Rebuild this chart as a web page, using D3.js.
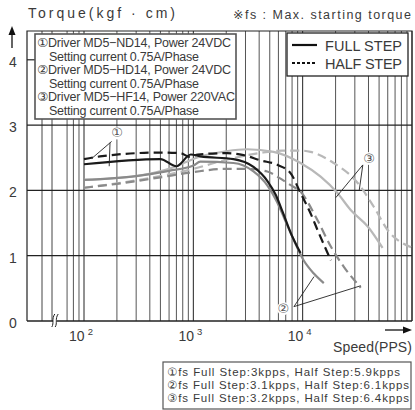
<!DOCTYPE html>
<html><head><meta charset="utf-8">
<script src="https://cdn.jsdelivr.net/npm/d3@7"></script>
<style>
body{margin:0;background:#fff}
svg{display:block}
text{font-family:"Liberation Sans",Arial,"DejaVu Sans",sans-serif;fill:#3a3a3a}
</style>
</head><body>
<svg id="c" width="415" height="410"></svg>
<script>
// ---------- data ----------
const speedGrid = [70,80,90,100,200,300,400,500,600,700,800,900,1000,2000,3000,4000,5000,6000,7000,8000,9000,10000,20000,30000,40000,50000,60000,70000,80000,90000,100000];
const majorSpeeds = [100,1000,10000];
const xTickLabels = ["2","3","4"];
const preBreakGrid = [30,50];
const breakAt = 57;
const torqueTicks = [0,1,2,3,4];
const torqueGrid = [1,2,3];

const s1Full = [100,500,700,950,1160,2330,3550,4780,5680,6560,7770,9560];
const t1Full = [2.40,2.48,2.37,2.55,2.52,2.48,2.36,2.14,1.93,1.67,1.35,1.04];
const s1Half = [100,140,500,760,937,1100,2050,2880,4120,5900,7770,9560,11800,13700,18100];
const t1Half = [2.48,2.52,2.58,2.57,2.51,2.55,2.57,2.54,2.46,2.39,2.26,1.96,1.65,1.39,0.93];
const s2Full = [100,300,600,1000,1160,2330,3550,4780,5800,6800,8000,10200,12600,15600];
const t2Full = [2.16,2.22,2.30,2.38,2.44,2.42,2.29,2.07,1.83,1.57,1.30,0.93,0.73,0.58];
const s2Half = [100,200,500,1000,2000,3000,4740,6000,7770,9560,13600,18100,23800,34000];
const t2Half = [2.04,2.10,2.20,2.28,2.33,2.33,2.29,2.20,2.08,1.98,1.55,1.14,0.83,0.51];
const s3Full = [100,300,600,1160,2000,3110,5420,9560,14600,20800,27500,39200,53800];
const t3Full = [2.16,2.22,2.33,2.52,2.60,2.63,2.59,2.42,2.21,1.96,1.70,1.45,1.12];
const s3Half = [100,500,1000,2000,4000,6500,9560,11800,19200,32000,44700,60000,98000];
const t3Half = [2.04,2.22,2.33,2.47,2.57,2.61,2.61,2.59,2.42,2.11,1.75,1.39,1.13];

const noteLines = ["①Driver MD5−ND14, Power 24VDC","Setting current 0.75A/Phase","②Driver MD5−HD14, Power 24VDC","Setting current 0.75A/Phase","③Driver MD5−HF14, Power 220VAC","Setting current 0.75A/Phase"];
const fsLines = ["①fs Full Step:3kpps, Half Step:5.9kpps","②fs Full Step:3.1kpps, Half Step:6.1kpps","③fs Full Step:3.2kpps, Half Step:6.4kpps"];
const legendLabels = ["FULL STEP","HALF STEP"];
const callouts = [
  {label:"①", at:[201,2.88], from:[179,2.75], to:[[118,2.49]]},
  {label:"①", at:null, from:[173,2.73], to:[[170,2.37]]},
  {label:"②", at:[6650,0.19], from:[8320,0.22], to:[[12700,0.68],[34000,0.54]]},
  {label:"③", at:[40600,2.49], from:[35500,2.39], to:[[20100,1.89],[32900,2.0]]}
];

// ---------- drawing ----------
const svg = d3.select("#c");
const L=27, R=412, T=31, B=321;
const x = d3.scaleLog().domain([100,100000]).range([84,R]);
const xPre = d3.scaleLinear().domain([0,60]).range([L,57]);
const y = d3.scaleLinear().domain([0,4]).range([B,59.8]);

// grid
const g = svg.append("g");
g.selectAll(".vg").data(speedGrid).join("line")
  .attr("x1",d=>x(d)).attr("x2",d=>x(d)).attr("y1",T).attr("y2",B)
  .attr("stroke",d=>majorSpeeds.includes(d)?"#222":"#555").attr("stroke-width",1);
g.selectAll(".pg").data(preBreakGrid).join("line")
  .attr("x1",d=>xPre(d)).attr("x2",d=>xPre(d)).attr("y1",T).attr("y2",B)
  .attr("stroke","#444").attr("stroke-width",1);
g.selectAll(".hg").data(torqueGrid).join("line")
  .attr("x1",L).attr("x2",R).attr("y1",d=>y(d)).attr("y2",d=>y(d))
  .attr("stroke","#222").attr("stroke-width",1.2);
g.append("line").attr("x1",L).attr("x2",L+8).attr("y1",y(4)).attr("y2",y(4)).attr("stroke","#222").attr("stroke-width",1.2);
// frame
g.append("path").attr("d",`M${L},${B}V${T}H${R}V${B}`).attr("fill","none").attr("stroke","#222").attr("stroke-width",1.2);
g.append("line").attr("x1",L).attr("x2",R).attr("y1",B).attr("y2",B).attr("stroke","#222").attr("stroke-width",1.6);

// break mark
const bx = xPre(breakAt);
g.append("rect").attr("x",bx-2.5).attr("y",B-7).attr("width",4).attr("height",13).attr("fill","#fff");
[-2.2,1.2].forEach(o=>{
  g.append("path").attr("d",`M${bx+o-1.5},${B+6} C${bx+o+1},${B+2} ${bx+o-2},${B-2} ${bx+o+1.5},${B-7}`)
   .attr("fill","none").attr("stroke","#222").attr("stroke-width",1);
});

// curves
const line = d3.line().x(d=>x(d[0])).y(d=>y(d[1])).curve(d3.curveMonotoneX);
const series = [
  {s:s3Full,t:t3Full,c:"#b8b8b8",dash:null},
  {s:s3Half,t:t3Half,c:"#b8b8b8",dash:"9,5"},
  {s:s2Half,t:t2Half,c:"#8a8a8a",dash:"9,5"},
  {s:s2Full,t:t2Full,c:"#8a8a8a",dash:null},
  {s:s1Half,t:t1Half,c:"#1a1a1a",dash:"9,5"},
  {s:s1Full,t:t1Full,c:"#1a1a1a",dash:null}
];
series.forEach(sr=>{
  svg.append("path").datum(sr.s.map((v,i)=>[v,sr.t[i]]))
    .attr("d",line).attr("fill","none").attr("stroke",sr.c).attr("stroke-width",2.2)
    .attr("stroke-dasharray",sr.dash);
});

// callouts
callouts.forEach(c=>{
  c.to.forEach(p=>{
    svg.append("line").attr("x1",x(c.from[0])).attr("y1",y(c.from[1]))
      .attr("x2",x(p[0])).attr("y2",y(p[1])).attr("stroke","#222").attr("stroke-width",0.9);
  });
  if(c.at){
    svg.append("circle").attr("cx",x(c.at[0])).attr("cy",y(c.at[1])).attr("r",6.5).attr("fill","#fff");
    svg.append("text").attr("x",x(c.at[0])).attr("y",y(c.at[1])+4.5).attr("text-anchor","middle")
      .attr("font-size",13).style("fill","#555").text(c.label);
  }
});

// notes box
svg.append("rect").attr("x",35).attr("y",34).attr("width",201).attr("height",85)
  .attr("fill","#fff").attr("stroke","#555").attr("stroke-width",1.6);
svg.selectAll(".nl").data(noteLines).join("text")
  .attr("x",(d,i)=>i%2?49:37).attr("y",(d,i)=>47+i*13.6)
  .attr("font-size",12.5)
  .attr("textLength",(d,i)=>i%2?150:(i==4?198:194)).attr("lengthAdjust","spacing")
  .text(d=>d);

// legend
svg.append("rect").attr("x",287).attr("y",33).attr("width",121).attr("height",43)
  .attr("fill","#fff").attr("stroke","#222").attr("stroke-width",1.3);
legendLabels.forEach((lb,i)=>{
  const yy = 45+i*18;
  svg.append("line").attr("x1",292).attr("x2",317).attr("y1",yy).attr("y2",yy)
    .attr("stroke","#111").attr("stroke-width",2.2).attr("stroke-dasharray",i?"3,2":null);
  svg.append("text").attr("x",325).attr("y",yy+6).attr("font-size",14.5)
    .attr("textLength",77).attr("lengthAdjust","spacing").text(lb);
});

// axis labels
svg.selectAll(".yl").data(torqueTicks).join("text")
  .attr("x",13).attr("y",d=>y(d)+7).attr("text-anchor","middle").attr("font-size",14).text(d=>d);
majorSpeeds.forEach((v,i)=>{
  const t = svg.append("text").attr("x",x(v)-3).attr("y",341).attr("text-anchor","middle").attr("font-size",14);
  t.append("tspan").text("10");
  t.append("tspan").attr("dy",-6).attr("font-size",9.5).attr("dx",3).text(xTickLabels[i]);
});
svg.append("text").attr("x",28).attr("y",18).attr("font-size",14)
  .attr("textLength",147).attr("lengthAdjust","spacing").text("Torque(kgf · cm)");
svg.append("text").attr("x",233).attr("y",19).attr("font-size",12.5)
  .attr("textLength",178).attr("lengthAdjust","spacing").text("※fs : Max. starting torque");
svg.append("text").attr("x",333).attr("y",352).attr("font-size",14)
  .attr("textLength",79).attr("lengthAdjust","spacing").text("Speed(PPS)");

// arrows
svg.append("line").attr("x1",12).attr("x2",12).attr("y1",48).attr("y2",32).attr("stroke","#111").attr("stroke-width",1.3);
svg.append("path").attr("d","M12,26 L8.5,35 L15.5,35 Z").attr("fill","#111");
svg.append("line").attr("x1",385).attr("x2",405).attr("y1",330).attr("y2",330).attr("stroke","#111").attr("stroke-width",1.3);
svg.append("path").attr("d","M412,330 L403,326.5 L403,333.5 Z").attr("fill","#111");

// fs box
svg.append("rect").attr("x",163).attr("y",362).attr("width",248).attr("height",47)
  .attr("fill","#fff").attr("stroke","#555").attr("stroke-width",1.2);
svg.selectAll(".fl").data(fsLines).join("text")
  .attr("x",167).attr("y",(d,i)=>376+i*13).attr("font-size",11.5)
  .attr("textLength",(d,i)=>i?242:233).attr("lengthAdjust","spacing")
  .style("fill","#3a3a3a").text(d=>d);
</script>
</body></html>
